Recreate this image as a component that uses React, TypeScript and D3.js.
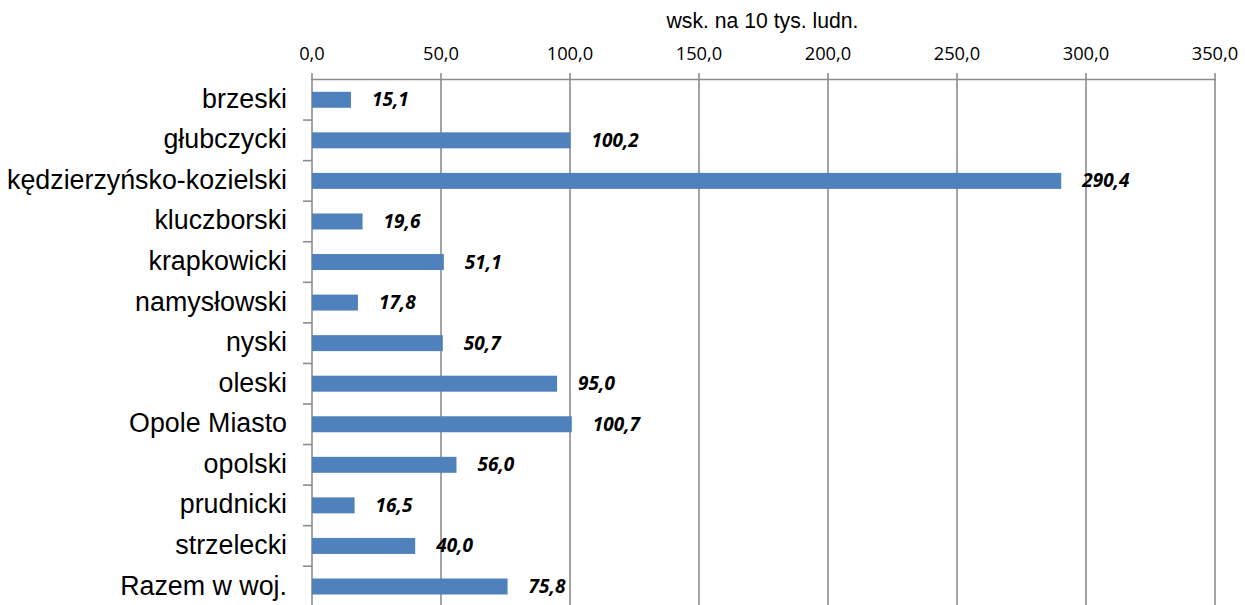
import React from "react";
import * as d3 from "d3";

const categories = [
  "brzeski",
  "głubczycki",
  "kędzierzyńsko-kozielski",
  "kluczborski",
  "krapkowicki",
  "namysłowski",
  "nyski",
  "oleski",
  "Opole Miasto",
  "opolski",
  "prudnicki",
  "strzelecki",
  "Razem w woj.",
];
const values = [15.1, 100.2, 290.4, 19.6, 51.1, 17.8, 50.7, 95.0, 100.7, 56.0, 16.5, 40.0, 75.8];
const tickValues = [0, 50, 100, 150, 200, 250, 300, 350];
const axisTitle = "wsk. na 10 tys. ludn.";

const W = 1245;
const H = 605;
const left = 312;
const right = 1215;
const top = 79.5;
const step = 40.56;

const fmt = (v: number) => v.toFixed(1).replace(".", ",");

export default function App() {
  const x = d3.scaleLinear().domain([0, 350]).range([left, right]);
  const y = d3
    .scaleBand<string>()
    .domain(categories)
    .range([top, top + step * categories.length])
    .paddingInner(0.606)
    .paddingOuter(0.303);
  const grid = "#8c8c8c";
  const boundaries = categories.map((_, i) => top + step * (i + 1));
  return (
    <div style={{ position: "fixed", left: 0, top: 0 }}>
      <svg width={W} height={H} style={{ display: "block", background: "#fff" }}>
        <text
          x={x(175) - 1}
          y={28}
          textAnchor="middle"
          fontFamily="Liberation Sans, Arial, sans-serif"
          fontSize={21.2}
          fill="#000"
        >
          {axisTitle}
        </text>
        {tickValues.map((t) => (
          <g key={t}>
            <line x1={x(t)} x2={x(t)} y1={73} y2={H} stroke={grid} strokeWidth={1.6} />
            <text
              x={x(t)}
              y={60}
              textAnchor="middle"
              fontFamily="Open Sans, sans-serif"
              fontSize={18.3}
              fill="#000"
            >
              {fmt(t)}
            </text>
          </g>
        ))}
        <line x1={left - 1} x2={right + 1} y1={top} y2={top} stroke={grid} strokeWidth={1.6} />
        {boundaries.map((b, i) => (
          <line key={i} x1={303} x2={left} y1={b} y2={b} stroke={grid} strokeWidth={1.6} />
        ))}
        {categories.map((c, i) => {
          const yy = y(c)!;
          const bw = y.bandwidth();
          const cy = yy + bw / 2;
          return (
            <g key={c}>
              <rect
                x={x(0)}
                y={yy}
                width={x(values[i]) - x(0)}
                height={bw}
                fill="#4f81bd"
              />
              <text
                x={287}
                y={cy + 8}
                textAnchor="end"
                fontFamily="Liberation Sans, Arial, sans-serif"
                fontSize={26.8}
                fill="#000"
              >
                {c}
              </text>
              <text
                x={x(values[i]) + 21}
                y={cy + 6.5}
                fontFamily="Open Sans, sans-serif"
                fontWeight="bold"
                fontStyle="italic"
                fontSize={19}
                fill="#000"
              >
                {fmt(values[i])}
              </text>
            </g>
          );
        })}
      </svg>
    </div>
  );
}
